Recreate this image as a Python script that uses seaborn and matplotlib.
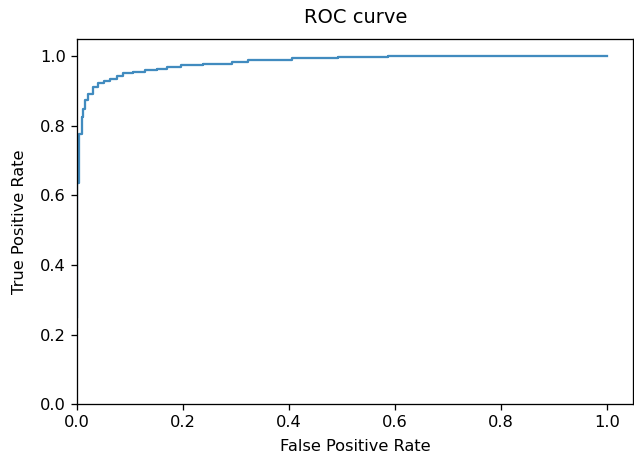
import matplotlib
matplotlib.use("Agg")
import matplotlib.pyplot as plt
import seaborn as sns
import pandas as pd

fpr = [0.0, 0.0, 0.003, 0.003, 0.009, 0.009, 0.012, 0.012, 0.015, 0.015,
       0.021, 0.021, 0.031, 0.031, 0.040, 0.040, 0.050, 0.050, 0.062, 0.062,
       0.075, 0.075, 0.087, 0.087, 0.106, 0.106, 0.128, 0.128, 0.150, 0.150,
       0.169, 0.169, 0.197, 0.197, 0.238, 0.238, 0.292, 0.292, 0.323, 0.323,
       0.405, 0.405, 0.493, 0.493, 0.587, 0.587, 1.0]
tpr = [0.25, 0.635, 0.635, 0.777, 0.777, 0.826, 0.826, 0.85, 0.85, 0.874,
       0.874, 0.893, 0.893, 0.912, 0.912, 0.924, 0.924, 0.930, 0.930, 0.936,
       0.936, 0.944, 0.944, 0.953, 0.953, 0.956, 0.956, 0.960, 0.960, 0.965,
       0.965, 0.970, 0.970, 0.975, 0.975, 0.978, 0.978, 0.985, 0.985, 0.990,
       0.990, 0.995, 0.995, 0.998, 0.998, 1.0, 1.0]

df = pd.DataFrame({"fpr": fpr, "tpr": tpr})

DPI = 117
fig = plt.figure(figsize=(634 / DPI, 454 / DPI), dpi=DPI)
ax = fig.add_axes([0.1215, 0.110, 0.8775, 0.804])
sns.lineplot(data=df, x="fpr", y="tpr", sort=False, estimator=None,
             color="#1f77b4", alpha=0.85, linewidth=1.4, ax=ax)
ax.set_xlim(0, 1.05)
ax.set_ylim(0, 1.05)
ax.set_xticks([0.0, 0.2, 0.4, 0.6, 0.8, 1.0])
ax.set_yticks([0.0, 0.2, 0.4, 0.6, 0.8, 1.0])
ax.set_xlabel("False Positive Rate", labelpad=5)
ax.set_ylabel("True Positive Rate", labelpad=8)
ax.set_title("ROC curve", fontsize=12, pad=10)
fig.savefig("out.png", dpi=DPI)
